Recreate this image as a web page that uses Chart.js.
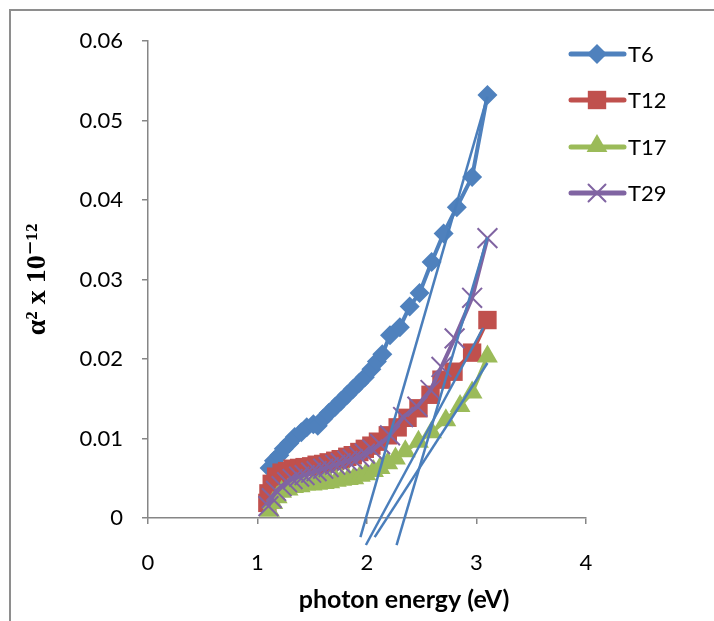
<!DOCTYPE html>
<html lang="en">
<head>
    <meta charset="UTF-8">
    <title>Photon energy plot</title>
    <style>
        html, body {
            margin: 0;
            padding: 0;
            background: #fff;
            overflow: hidden;
        }
        .frame {
            position: absolute;
            left: 9px;
            top: 9px;
            width: 800px;
            height: 700px;
            border-left: 2px solid #8e8e8e;
            border-top: 2px solid #8e8e8e;
            pointer-events: none;
        }
        .chart-box {
            position: absolute;
            left: 0;
            top: 0;
            width: 714px;
            height: 621px;
        }
    </style>
    <script src="https://cdn.jsdelivr.net/npm/chart.js"></script>
</head>
<body>
    <div class="chart-box">
        <canvas id="chart" width="714" height="621"></canvas>
    </div>
    <div class="frame"></div>

    <script>
        // series (photon energy in eV, alpha^2 x 1e-12)
        const seriesNames = ['T6', 'T12', 'T17', 'T29'];

        const t6Energy = [1.11, 1.15, 1.20, 1.24, 1.29, 1.34, 1.40, 1.45, 1.51, 1.55, 1.60, 1.65, 1.71, 1.76, 1.82, 1.87, 1.93, 1.98, 2.04, 2.09, 2.14, 2.21, 2.30, 2.39, 2.48, 2.59, 2.70, 2.82, 2.96, 3.10];
        const t6Alpha = [0.0063, 0.0072, 0.0079, 0.0087, 0.0094, 0.0102, 0.0108, 0.0114, 0.0118, 0.0116, 0.0125, 0.0132, 0.0140, 0.0147, 0.0155, 0.0162, 0.0170, 0.0177, 0.0187, 0.0197, 0.0206, 0.0230, 0.0240, 0.0266, 0.0283, 0.0322, 0.0358, 0.0391, 0.0429, 0.0532];

        const t12Energy = [1.09, 1.10, 1.13, 1.17, 1.22, 1.27, 1.32, 1.38, 1.43, 1.49, 1.54, 1.60, 1.65, 1.71, 1.76, 1.82, 1.87, 1.93, 1.98, 2.04, 2.10, 2.19, 2.28, 2.37, 2.47, 2.58, 2.68, 2.79, 2.96, 3.10];
        const t12Alpha = [0.0019, 0.0031, 0.0043, 0.0052, 0.0057, 0.0059, 0.0062, 0.0063, 0.0064, 0.0065, 0.0067, 0.0068, 0.0070, 0.0072, 0.0074, 0.0077, 0.0079, 0.0083, 0.0087, 0.0091, 0.0096, 0.0104, 0.0114, 0.0126, 0.0138, 0.0155, 0.0174, 0.0184, 0.0208, 0.0249];

        const t17Energy = [1.11, 1.14, 1.18, 1.22, 1.28, 1.33, 1.39, 1.44, 1.50, 1.55, 1.61, 1.66, 1.72, 1.77, 1.83, 1.88, 1.94, 1.99, 2.06, 2.12, 2.19, 2.26, 2.35, 2.47, 2.59, 2.72, 2.85, 2.96, 3.10];
        const t17Alpha = [0.0009, 0.0019, 0.0026, 0.0033, 0.0036, 0.0039, 0.0040, 0.0042, 0.0042, 0.0043, 0.0044, 0.0045, 0.0047, 0.0048, 0.0049, 0.0050, 0.0053, 0.0055, 0.0059, 0.0063, 0.0069, 0.0075, 0.0084, 0.0096, 0.0108, 0.0123, 0.0141, 0.0158, 0.0203];

        const t29Energy = [1.10, 1.13, 1.17, 1.22, 1.27, 1.32, 1.38, 1.43, 1.49, 1.54, 1.60, 1.65, 1.71, 1.76, 1.82, 1.87, 1.93, 1.98, 2.05, 2.12, 2.21, 2.33, 2.46, 2.58, 2.68, 2.80, 2.96, 3.10];
        const t29Alpha = [0.0015, 0.0025, 0.0034, 0.0040, 0.0045, 0.0049, 0.0052, 0.0054, 0.0057, 0.0059, 0.0062, 0.0064, 0.0067, 0.0069, 0.0072, 0.0074, 0.0077, 0.0081, 0.0086, 0.0093, 0.0104, 0.0127, 0.0140, 0.0161, 0.0190, 0.0226, 0.0277, 0.0352];

        // straight fit lines drawn over the data (start/end energy, start/end alpha)
        const fitEnergy = [[1.94, 3.10], [1.99, 3.06], [2.07, 3.10], [2.27, 3.10]];
        const fitAlpha = [[-0.0024, 0.0530], [-0.0034, 0.0239], [-0.0024, 0.0195], [-0.0034, 0.0353]];

        const xTicks = [0, 1, 2, 3, 4];
        const yTicks = [0, 0.01, 0.02, 0.03, 0.04, 0.05, 0.06];

        const xTitle = 'photon energy (eV)';
        const yTitle = 'α² x 10⁻¹²';

        const colors = ['#4f81bd', '#c0504d', '#9bbb59', '#8064a2'];
        const fitColor = '#4a7ebb';
        const labelFont = 'Lato, "Open Sans", sans-serif';

        function toPoints(xs, ys) {
            return xs.map((x, i) => ({ x: x, y: ys[i] }));
        }

        const seriesStyle = [
            { pointStyle: 'rectRot', radius: 10 },
            { pointStyle: 'rect', radius: 13 },
            { pointStyle: 'triangle', radius: 12 },
            { pointStyle: 'crossRot', radius: 14 }
        ];
        const seriesData = [
            toPoints(t6Energy, t6Alpha),
            toPoints(t12Energy, t12Alpha),
            toPoints(t17Energy, t17Alpha),
            toPoints(t29Energy, t29Alpha)
        ];

        const datasets = seriesNames.map((name, i) => ({
            label: name,
            data: seriesData[i],
            borderColor: colors[i],
            backgroundColor: colors[i],
            borderWidth: 4,
            pointStyle: seriesStyle[i].pointStyle,
            pointRadius: seriesStyle[i].radius,
            pointBorderWidth: i === 3 ? 2 : 0,
            pointBorderColor: colors[i],
            pointBackgroundColor: colors[i],
            tension: 0,
            order: 5 - i
        }));

        fitEnergy.forEach((xs, i) => {
            datasets.push({
                label: 'fit' + i,
                data: toPoints(xs, fitAlpha[i]),
                borderColor: fitColor,
                borderWidth: 2.5,
                pointRadius: 0,
                clip: false,
                order: 0
            });
        });

        // Excel style legend (line with marker in the middle) + x title,
        // which sits right of the axis centre in the original
        const sideLegend = {
            id: 'sideLegend',
            afterDraw(chart) {
                const ctx = chart.ctx;
                const rows = [54, 100, 147, 193];
                const sizes = [10, 13, 12, 12];
                ctx.save();
                seriesNames.forEach((name, i) => {
                    const y = rows[i];
                    ctx.strokeStyle = colors[i];
                    ctx.lineWidth = 5;
                    ctx.lineCap = 'round';
                    ctx.beginPath();
                    ctx.moveTo(571, y);
                    ctx.lineTo(624, y);
                    ctx.stroke();
                    ctx.fillStyle = colors[i];
                    ctx.lineWidth = 2;
                    Chart.helpers.drawPoint(ctx, {
                        pointStyle: seriesStyle[i].pointStyle,
                        radius: sizes[i],
                        rotation: 0,
                        borderWidth: i === 3 ? 2 : 0
                    }, 597, y + (i === 2 ? -1 : 0));
                    ctx.fillStyle = '#000';
                    ctx.font = '22px ' + labelFont;
                    ctx.textBaseline = 'middle';
                    ctx.textAlign = 'left';
                    ctx.fillText(name, 628, y + 1);
                });

                ctx.font = 'bold 25px ' + labelFont;
                ctx.textAlign = 'center';
                ctx.textBaseline = 'middle';
                ctx.fillStyle = '#000';
                ctx.fillText(xTitle, 404, 600);
                ctx.restore();
            }
        };

        new Chart(document.getElementById('chart'), {
            type: 'line',
            data: { datasets: datasets },
            plugins: [sideLegend],
            options: {
                responsive: false,
                animation: false,
                layout: { padding: { left: 0, top: 41, right: 128, bottom: 0 } },
                plugins: {
                    legend: { display: false },
                    tooltip: { enabled: false }
                },
                scales: {
                    x: {
                        type: 'linear',
                        min: 0,
                        max: 4,
                        afterFit(scale) { scale.height = 103; },
                        afterBuildTicks(scale) { scale.ticks = xTicks.map(v => ({ value: v })); },
                        grid: { drawOnChartArea: false, drawTicks: true, tickLength: 6, color: '#868686', lineWidth: 1.5 },
                        border: { display: true, color: '#868686', width: 1.5 },
                        ticks: {
                            padding: 26,
                            color: '#000',
                            font: { family: labelFont, size: 22 },
                            callback: v => String(v)
                        }
                    },
                    y: {
                        type: 'linear',
                        min: 0,
                        max: 0.06,
                        afterFit(scale) { scale.width = 148; },
                        afterBuildTicks(scale) { scale.ticks = yTicks.map(v => ({ value: v })); },
                        grid: { drawOnChartArea: false, drawTicks: true, tickLength: 6, color: '#868686', lineWidth: 1.5 },
                        border: { display: true, color: '#868686', width: 1.5 },
                        ticks: {
                            padding: 19,
                            color: '#000',
                            font: { family: labelFont, size: 22 },
                            callback: v => v === 0 ? '0' : v.toFixed(2)
                        },
                        title: {
                            display: true,
                            text: yTitle,
                            color: '#000',
                            font: { family: '"Liberation Serif", "DejaVu Serif", serif', size: 28, weight: 'bold' },
                            padding: { top: 21, bottom: 0 }
                        }
                    }
                }
            }
        });
    </script>
</body>
</html>
